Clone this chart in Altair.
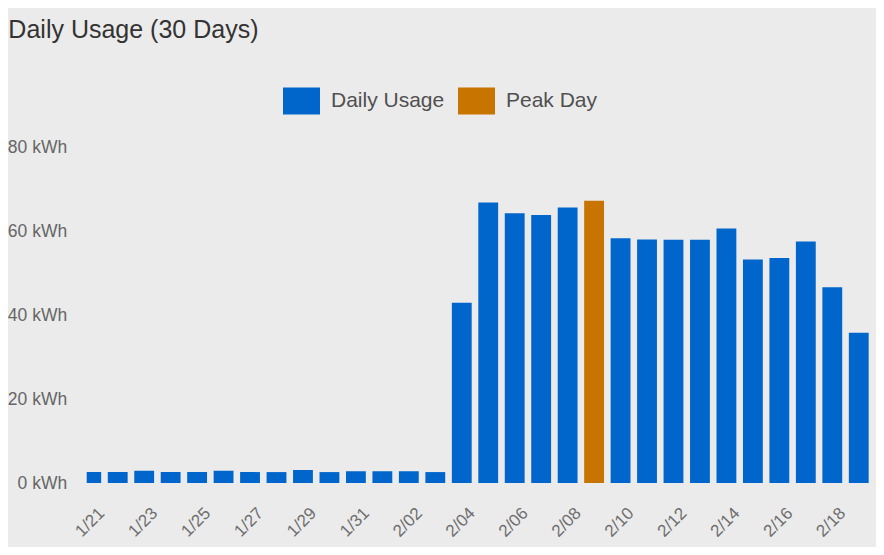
import altair as alt
import pandas as pd

dates = ["1/21", "1/22", "1/23", "1/24", "1/25", "1/26", "1/27", "1/28", "1/29", "1/30",
         "1/31", "2/01", "2/02", "2/03", "2/04", "2/05", "2/06", "2/07", "2/08", "2/09",
         "2/10", "2/11", "2/12", "2/13", "2/14", "2/15", "2/16", "2/17", "2/18", "2/19"]
usage = [2.6, 2.6, 2.9, 2.6, 2.6, 2.9, 2.6, 2.6, 3.1, 2.6,
         2.8, 2.8, 2.8, 2.6, 42.9, 66.8, 64.2, 63.8, 65.6, 67.2,
         58.3, 58.0, 57.9, 57.9, 60.6, 53.2, 53.6, 57.5, 46.6, 35.8]
peak_day = "2/09"
series = ["Daily Usage", "Peak Day"]
colors = ["#0066cc", "#c87400"]
y_ticks = [0, 20, 40, 60, 80]
x_labels = dates[::2]

FONT = "Liberation Sans"

df = pd.DataFrame({"date": dates, "kwh": usage})
df["series"] = [series[1] if d == peak_day else series[0] for d in dates]

chart = alt.Chart(df).mark_bar(clip=True).encode(
    x=alt.X(
        "date:N", sort=dates,
        scale=alt.Scale(range=[-6.7, 783.3], paddingInner=0.25, paddingOuter=0.05),
        axis=alt.Axis(values=x_labels, labelAngle=-45, labelAlign="center",
                      labelBaseline="middle", labelOffset=-1, labelPadding=39,
                      ticks=False, domain=False, title=None, labelFont=FONT,
                      labelFontSize=17, labelColor="#6e6e6e"),
    ),
    y=alt.Y(
        "kwh:Q", scale=alt.Scale(domain=[0, 80]),
        axis=alt.Axis(values=y_ticks, labelExpr="datum.value + ' kWh'", grid=False,
                      domain=False, ticks=False, labelPadding=20, title=None,
                      labelFont=FONT, labelFontSize=17.5, labelColor="#666666"),
    ),
    color=alt.Color(
        "series:N", scale=alt.Scale(domain=series, range=colors),
        legend=alt.Legend(orient="none", legendX=196.3, legendY=-65, direction="horizontal",
                          title=None, padding=0,
                          symbolType="M-1,-0.73L1,-0.73L1,0.73L-1,0.73Z",
                          symbolSize=1369, symbolStrokeWidth=0, symbolOpacity=1,
                          labelFont=FONT, labelFontSize=21, labelOffset=11,
                          columnPadding=13, labelColor="#505050"),
    ),
).properties(
    width=783.3, height=336,
    title=alt.TitleParams("Daily Usage (30 Days)", anchor="start", font=FONT,
                          fontSize=25, fontWeight="normal", color="#333333",
                          dx=1, dy=-35),
    autosize=alt.AutoSizeParams(type="none"),
    padding={"left": 78.7, "top": 139, "right": 6, "bottom": 64},
    background="#ebebeb",
).configure_view(stroke=None)

chart.save("out.html", embed_options={"renderer": "svg", "actions": False})
